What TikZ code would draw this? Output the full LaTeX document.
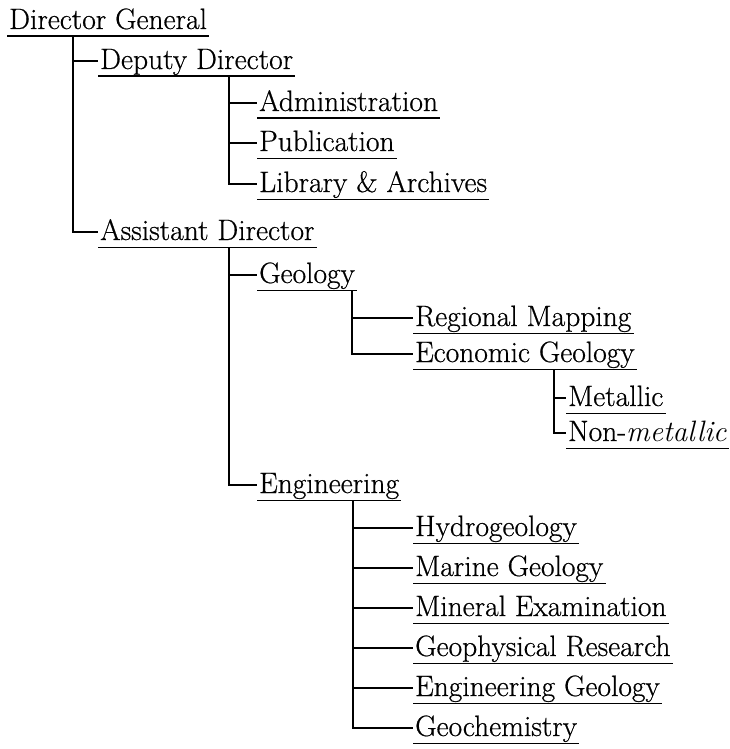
\documentclass[tikz,border=0pt]{standalone}
\usepackage{fontspec}
\usepackage{tikz}
\newfontfamily\chartfont{Latin Modern Roman}[AutoFakeBold=0.6]

\begin{document}
\begin{tikzpicture}[x=1pt,y=-1pt,
    unit/.style={anchor=base west, inner xsep=2pt, inner ysep=2pt,
      text height=21pt, text depth=5pt,
      font=\chartfont\bfseries\fontsize{29.5}{35}\selectfont},
    link/.style={line width=1.6pt},
    rule/.style={line width=1.4pt}]
  \useasboundingbox (0,0) rectangle (730,749);

  % Top of the chart
  \node[unit] (dg) at (7,29) {Director General};
  \node[unit] (dd) at (98,69) {Deputy Director};
  \node[unit] (ad) at (98,240) {Assistant Director};
  \coordinate (dg-stem) at ([xshift=66pt]dg.south west);
  \draw[link] (dg-stem) |- (dd.west);
  \draw[link] (dg-stem) |- (ad.west);

  % Deputy Director's units
  \coordinate (dd-stem) at ([xshift=131pt]dd.south west);
  \foreach \name/\lbl/\y in {adm/Administration/111,pub/Publication/151,lib/Library \& Archives/192} {
    \node[unit] (\name) at (257,\y) {\lbl};
    \draw[link] (dd-stem) |- (\name.west);
  }

  % Assistant Director's divisions
  \node[unit] (geo) at (257,283) {Geology};
  \node[unit] (eng) at (257,493) {Engineering};
  \coordinate (ad-stem) at ([xshift=131pt]ad.south west);
  \draw[link] (ad-stem) |- (geo.west);
  \draw[link] (ad-stem) |- (eng.west);

  % Geology
  \node[unit] (rm) at (413,326) {Regional Mapping};
  \node[unit] (eg) at (413,362) {Economic Geology};
  \coordinate (geo-stem) at ([xshift=95pt]geo.south west);
  \draw[link] (geo-stem) |- (rm.west);
  \draw[link] (geo-stem) |- (eg.west);

  \node[unit] (met) at (566,406) {Metallic};
  \node[unit] (nmet) at (566,441) {Non-\textit{metallic}};
  \coordinate (eg-stem) at ([xshift=141pt]eg.south west);
  \draw[link] (eg-stem) |- (met.west);
  \draw[link] (eg-stem) |- (nmet.west);

  % Engineering
  \coordinate (eng-stem) at ([xshift=96pt]eng.south west);
  \foreach \lbl [count=\i] in {Hydrogeology,Marine Geology,Mineral Examination,Geophysical Research,Engineering Geology,Geochemistry} {
    \node[unit] (e\i) at (413,{496+40*\i}) {\lbl};
    \draw[link] (eng-stem) |- (e\i.west);
  }

  % Underlines
  \foreach \n in {dg,dd,ad,adm,pub,lib,geo,eng,rm,eg,met,nmet,e1,e2,e3,e4,e5,e6}
    \draw[rule] (\n.south west) -- (\n.south east);
\end{tikzpicture}
\end{document}
